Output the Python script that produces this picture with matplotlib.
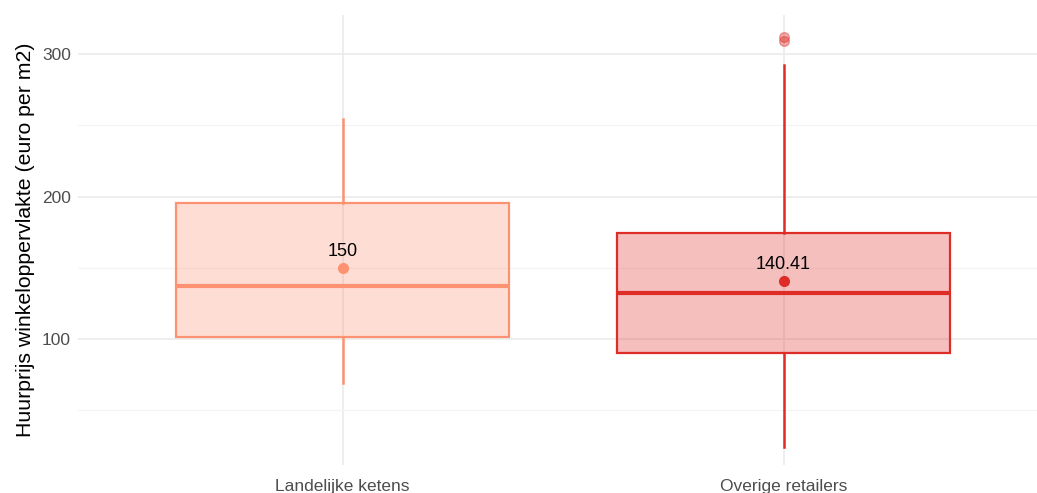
import numpy as np
import matplotlib.pyplot as plt
import matplotlib.colors as mcolors

plt.rcParams['font.family'] = ['Liberation Sans', 'DejaVu Sans']

# values
categories = ["Landelijke ketens", "Overige retailers"]
q1 = [101.4, 90.2]
medians = [137.2, 132.3]
q3 = [195.4, 174.4]
whisk_low = [69.1, 24.2]
whisk_high = [254.4, 292.3]
fliers = [[], [309.1, 311.9]]
means = [150, 140.41]
mean_labels = ["150", "140.41"]
colors = ["#FC9272", "#DE2D26"]

W, H = 1037, 493
fig = plt.figure(figsize=(W / 100, H / 100), dpi=100)
ax = fig.add_axes([78 / W, 1 - 465 / H, (1037 - 78) / W, (465 - 15) / H])

pos = np.arange(1, len(categories) + 1)
for i in range(len(categories)):
    c = colors[i]
    st = dict(q1=q1[i], med=medians[i], q3=q3[i], whislo=whisk_low[i],
              whishi=whisk_high[i], fliers=fliers[i], label=categories[i])
    fc = list(mcolors.to_rgba(c))
    fc[3] = 0.3
    ax.bxp([st], positions=[pos[i]], widths=0.755, patch_artist=True,
           showcaps=False, showfliers=True,
           boxprops=dict(facecolor=fc, edgecolor=c, linewidth=1.6),
           medianprops=dict(color=c, linewidth=3),
           whiskerprops=dict(color=c, linewidth=1.8),
           flierprops=dict(marker='o', markerfacecolor=c, markeredgecolor=c,
                           markersize=7, alpha=0.4),
           zorder=2)
    ax.plot(pos[i], means[i], 'o', color=c, markersize=7, zorder=4)
    ax.annotate(mean_labels[i], (pos[i], means[i]), xytext=(0, 12),
                textcoords='offset points', ha='center', va='center',
                fontsize=13, color='black', zorder=5)

ax.set_xlim(0.4, 0.4 + 959 / 441)
ax.set_ylim(11.6, 327.4)
ax.set_xticks(pos)
ax.set_xticklabels(categories)
ax.set_yticks([100, 200, 300])
ax.set_yticks([50, 150, 250], minor=True)
ax.tick_params(axis='both', which='both', length=0, labelsize=12.5, labelcolor='#4D4D4D')
ax.tick_params(axis='x', pad=10)
ax.tick_params(axis='y', pad=5)
ax.grid(True, which='major', color='#EBEBEB', linewidth=1.2, zorder=0)
ax.grid(True, which='minor', axis='y', color='#F3F3F3', linewidth=0.8, zorder=0)
ax.set_axisbelow(True)
for s in ax.spines.values():
    s.set_visible(False)
ax.set_ylabel("Huurprijs winkeloppervlakte (euro per m2)", fontsize=15.3,
              color='black', labelpad=5)

fig.savefig("out.png", dpi=100)
